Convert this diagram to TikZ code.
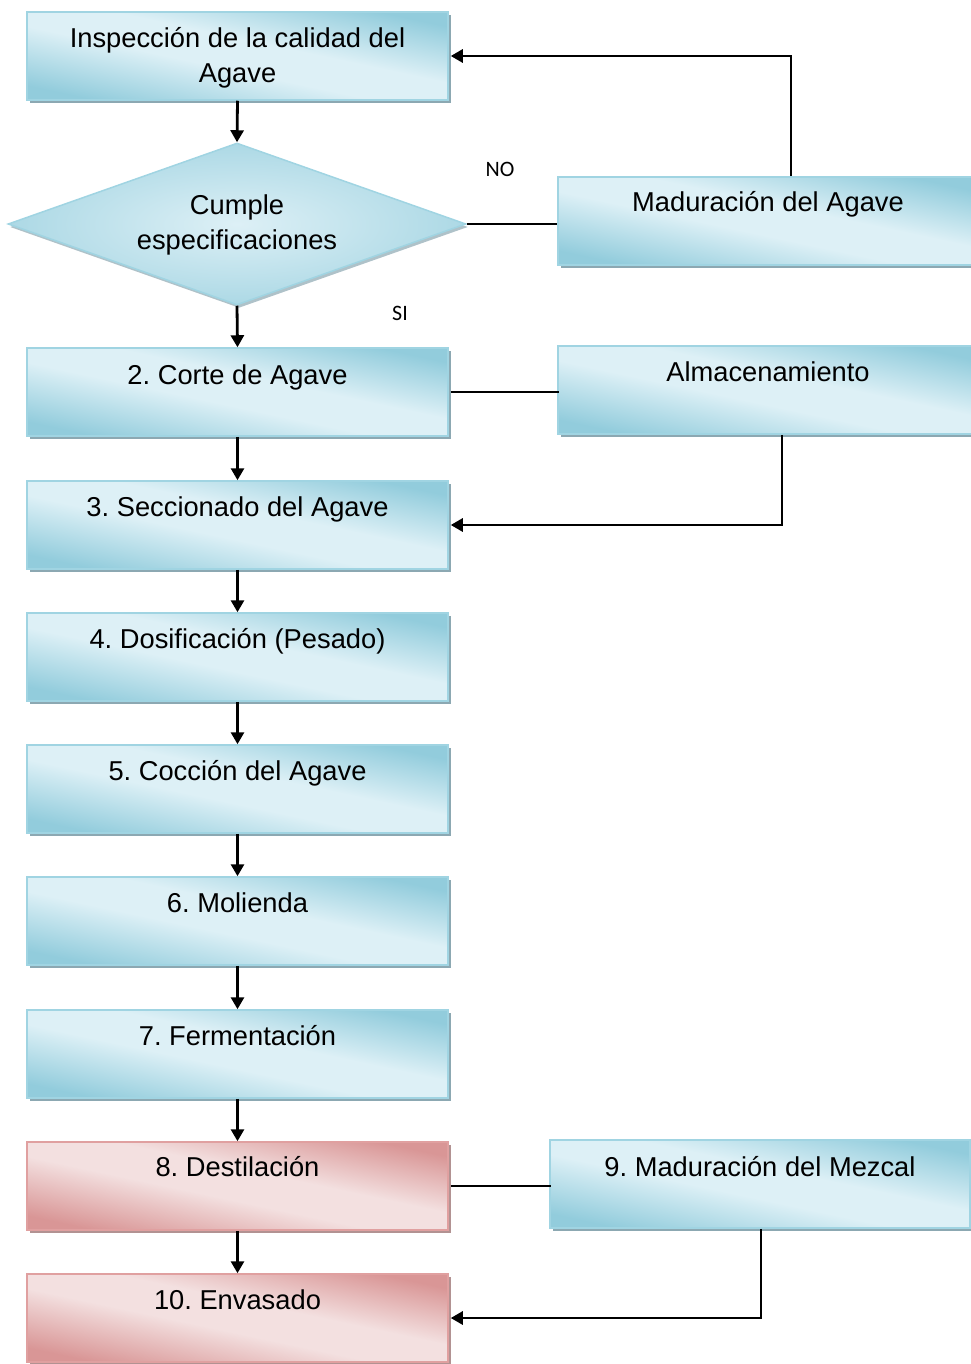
\documentclass[tikz,border=0pt]{standalone}
\usepackage{fontspec}
\setmainfont{Liberation Sans}
\newfontfamily\labelfont{Carlito}
\usetikzlibrary{shapes.geometric,shadows,arrows.meta}

\definecolor{bluedark}{RGB}{146,204,220}
\definecolor{bluelight}{RGB}{221,240,246}
\definecolor{blueedge}{RGB}{160,212,226}
\definecolor{blueshadow}{RGB}{140,168,178}
\definecolor{pinkdark}{RGB}{217,150,150}
\definecolor{pinklight}{RGB}{243,224,224}
\definecolor{pinkedge}{RGB}{224,160,160}
\definecolor{pinkshadow}{RGB}{178,146,146}

% diagonal glossy fills: dark corners, light band across the middle
\pgfdeclareverticalshading{bluepanel}{100bp}{color(0bp)=(bluedark); color(25bp)=(bluedark);
  color(45bp)=(bluelight); color(56bp)=(bluelight); color(75bp)=(bluedark); color(100bp)=(bluedark)}
\pgfdeclareverticalshading{pinkpanel}{100bp}{color(0bp)=(pinkdark); color(25bp)=(pinkdark);
  color(45bp)=(pinklight); color(56bp)=(pinklight); color(75bp)=(pinkdark); color(100bp)=(pinkdark)}

\tikzset{
  stagebox/.style={rectangle, minimum width=421pt, minimum height=88pt,
    inner sep=0pt, draw=blueedge, line width=1.5pt,
    shading=bluepanel, shading angle=-12,
    general shadow={shadow xshift=3pt, shadow yshift=-3pt, fill=blueshadow}},
  sidebox/.style={stagebox, minimum width=420pt},
  finalbox/.style={stagebox, draw=pinkedge,
    shading=pinkpanel, shading angle=-12,
    general shadow={shadow xshift=3pt, shadow yshift=-3pt, fill=pinkshadow}},
  decision/.style={diamond, minimum width=458pt, minimum height=162pt,
    inner sep=0pt, draw=blueedge, line width=1.5pt,
    inner color=bluelight, outer color=bluedark!65!bluelight,
    general shadow={shadow xshift=2pt, shadow yshift=-3pt, fill=blueshadow!70}},
  stagetext/.style={font=\fontsize{27.3}{35}\selectfont, anchor=base, inner sep=0pt, align=center},
  answer/.style={font=\labelfont\fontsize{22}{26}\selectfont, inner sep=0pt},
  flow/.style={-{Triangle[length=12pt,width=13pt]}, line width=2.8pt},
  link/.style={line width=2.8pt},
}

\begin{document}
\frenchspacing
\begin{tikzpicture}[x=1pt, y=-1pt]
  \useasboundingbox (0,0) rectangle (970,1364);

  % main column of process stages
  \node[stagebox] (b1) at (237.5,56) {};
  \node[decision] (dec) at (237,224) {};
  \node[stagebox] (b2) at (237.5,392) {};
  \node[stagebox] (b3) at (237.5,525) {};
  \node[stagebox] (b4) at (237.5,657) {};
  \node[stagebox] (b5) at (237.5,789) {};
  \node[stagebox] (b6) at (237.5,921) {};
  \node[stagebox] (b7) at (237.5,1054) {};
  \node[finalbox] (b8) at (237.5,1186) {};
  \node[finalbox] (b10) at (237.5,1318) {};

  % side stages
  \node[sidebox] (mad) at (768,221) {};
  \node[sidebox] (alm) at (768,390) {};
  \node[sidebox] (mez) at (760,1184) {};

  % stage names
  \node[stagetext, anchor=center] (t1) at (237.5,58) {Inspección de la calidad del\\Agave};
  \node[stagetext, anchor=center] (tdec) at (237,225) {Cumple\\especificaciones};
  \node[stagetext] (t2) at (237.5,384) {2. Corte de Agave};
  \node[stagetext] (t3) at (237.5,516) {3. Seccionado del Agave};
  \node[stagetext] (t4) at (237.5,648) {4. Dosificación (Pesado)};
  \node[stagetext] (t5) at (237.5,780) {5. Cocción del Agave};
  \node[stagetext] (t6) at (237.5,912) {6. Molienda};
  \node[stagetext] (t7) at (237.5,1045) {7. Fermentación};
  \node[stagetext] (t8) at (237.5,1176) {8. Destilación};
  \node[stagetext] (t10) at (237.5,1309) {10. Envasado};
  \node[stagetext] (tmad) at (768,212) {Maduración del Agave};
  \node[stagetext] (talm) at (768,381) {Almacenamiento};
  \node[stagetext] (tmez) at (760,1176) {9. Maduración del Mezcal};

  % decision answers
  \node[answer] (no) at (500,169) {NO};
  \node[answer] (si) at (400,313) {SI};

  % main flow
  \draw[flow] (b1.south) -- (dec.north);
  \draw[flow] (dec.south) -- (b2.north);
  \draw[flow] (b2.south) -- (b3.north);
  \draw[flow] (b3.south) -- (b4.north);
  \draw[flow] (b4.south) -- (b5.north);
  \draw[flow] (b5.south) -- (b6.north);
  \draw[flow] (b6.south) -- (b7.north);
  \draw[flow] (b7.south) -- (b8.north);
  \draw[flow] (b8.south) -- (b10.north);

  % loops through the side stages
  \draw[link] (dec.east) -- (dec.east -| mad.west);
  \draw[flow] ([xshift=23pt]mad.north) |- ([xshift=2pt]b1.east);
  \draw[link] ([xshift=2pt]b2.east) -- ([xshift=2pt]b2.east -| alm.west);
  \draw[flow] ([xshift=14pt]alm.south) |- ([xshift=2pt]b3.east);
  \draw[link] ([xshift=2pt]b8.east) -- ([xshift=2pt]b8.east -| mez.west);
  \draw[flow] ([xshift=1pt]mez.south) |- ([xshift=2pt]b10.east);
\end{tikzpicture}
\end{document}
